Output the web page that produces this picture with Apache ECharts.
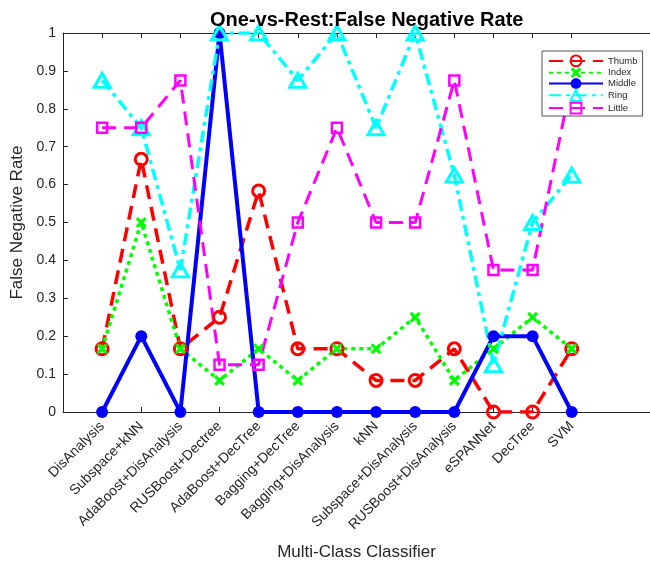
<!DOCTYPE html>
<html>
<head>
<meta charset="utf-8">
<script src="https://cdn.jsdelivr.net/npm/echarts@6/dist/echarts.min.js"></script>
<style>
html,body{margin:0;padding:0;background:#fff;}
#chart{width:650px;height:566px;}
</style>
</head>
<body>
<div id="chart"></div>
<script>
const categories = ['DisAnalysis','Subspace+kNN','AdaBoost+DisAnalysis','RUSBoost+Dectree','AdaBoost+DecTree','Bagging+DecTree','Bagging+DisAnalysis','kNN','Subspace+DisAnalysis','RUSBoost+DisAnalysis','eSPANNet','DecTree','SVM'];
const thumb  = [0.1667,0.6667,0.1667,0.25,0.5833,0.1667,0.1667,0.0833,0.0833,0.1667,0,0,0.1667];
const index  = [0.1667,0.5,0.1667,0.0833,0.1667,0.0833,0.1667,0.1667,0.25,0.0833,0.1667,0.25,0.1667];
const middle = [0,0.2,0,1,0,0,0,0,0,0,0.2,0.2,0];
const ring   = [0.875,0.75,0.375,1,1,0.875,1,0.75,1,0.625,0.125,0.5,0.625];
const little = [0.75,0.75,0.875,0.125,0.125,0.5,0.75,0.5,0.5,0.875,0.375,0.375,0.875];
const seriesNames = ['Thumb','Index','Middle','Ring','Little'];

const tickPos = categories.map((c,i)=>i+1);
const toPts = arr => arr.map((v,i)=>[i+1, v]);
const FONT = 'Liberation Sans, Arial, Helvetica, sans-serif';
const AX = '#262626';
const xPath = 'path://M2,0 L5,3 L8,0 L10,2 L7,5 L10,8 L8,10 L5,7 L2,10 L0,8 L3,5 L0,2 Z';

const chart = echarts.init(document.getElementById('chart'), null, {renderer:'canvas'});
const option = {
  animation:false,
  backgroundColor:'#fff',
  title:{
    text:'One-vs-Rest:False Negative Rate',
    left:205, top:5,
    textStyle:{fontFamily:FONT, fontSize:20, fontWeight:'bold', color:'#000'}
  },
  legend:{
    orient:'vertical',
    left:542, top:51,
    data:seriesNames,
    itemWidth:54, itemHeight:13.5, itemGap:0,
    padding:[3.5,5,1.5,6],
    backgroundColor:'#fff',
    borderColor:AX, borderWidth:0.8,
    textStyle:{fontFamily:FONT, fontSize:9.5, color:AX}
  },
  grid:{left:63, top:33, width:600, height:380, containLabel:false},
  xAxis:[{
    type:'value', min:0, max:15, position:'bottom',
    axisLine:{show:true, onZero:false, lineStyle:{color:AX, width:1}},
    axisTick:{show:true, inside:true, length:5, customValues:tickPos, lineStyle:{color:AX}},
    axisLabel:{customValues:tickPos, formatter:v=>categories[Math.round(v)-1]||'', rotate:45,
      fontFamily:FONT, fontSize:14, color:AX, margin:12},
    splitLine:{show:false},
    name:'Multi-Class Classifier', nameLocation:'middle', nameGap:132,
    nameTextStyle:{fontFamily:FONT, fontSize:17, color:AX}
  },{
    type:'value', min:0, max:15, position:'top',
    axisLine:{show:true, onZero:false, lineStyle:{color:AX, width:1}},
    axisTick:{show:true, inside:true, length:5, customValues:tickPos, lineStyle:{color:AX}},
    axisLabel:{show:false},
    splitLine:{show:false}
  }],
  yAxis:{
    type:'value', min:0, max:1, interval:0.1,
    axisLine:{show:true, onZero:false, lineStyle:{color:AX, width:1}},
    axisTick:{show:true, inside:true, length:5, lineStyle:{color:AX}},
    axisLabel:{fontFamily:FONT, fontSize:14, color:AX, margin:7},
    splitLine:{show:false},
    name:'False Negative Rate', nameLocation:'middle', nameGap:29,
    nameTextStyle:{fontFamily:FONT, fontSize:17, color:AX}
  },
  series:[
    {name:'Thumb', type:'line', data:toPts(thumb), symbol:'circle', symbolSize:12,
     lineStyle:{color:'#ff0000', width:3.5, type:[14,8]},
     itemStyle:{color:'rgba(255,255,255,0)', borderColor:'#ff0000', borderWidth:3}},
    {name:'Index', type:'line', data:toPts(index), symbol:xPath, symbolSize:11,
     lineStyle:{color:'#00ff00', width:3.5, type:[4,4]},
     itemStyle:{color:'#00ff00'}},
    {name:'Middle', type:'line', data:toPts(middle), symbol:'circle', symbolSize:12,
     lineStyle:{color:'#0000ff', width:4, type:'solid'},
     itemStyle:{color:'#0000ff'}},
    {name:'Ring', type:'line', data:toPts(ring), symbol:'triangle', symbolSize:[16,14],
     lineStyle:{color:'#00ffff', width:3.5, type:[12,5,4,5]},
     itemStyle:{color:'rgba(255,255,255,0)', borderColor:'#00ffff', borderWidth:3}},
    {name:'Little', type:'line', data:toPts(little), symbol:'rect', symbolSize:10,
     lineStyle:{color:'#ff00ff', width:3, type:[14,8]},
     itemStyle:{color:'rgba(255,255,255,0)', borderColor:'#ff00ff', borderWidth:2.5}}
  ]
};
chart.setOption(option);
</script>
</body>
</html>
